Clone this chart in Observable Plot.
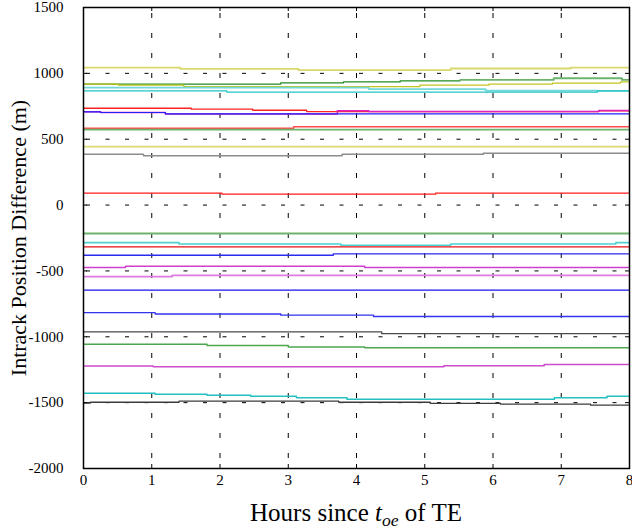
<!DOCTYPE html>
<html><head><meta charset="utf-8">
<script src="https://cdn.jsdelivr.net/npm/d3@7"></script>
<script src="https://cdn.jsdelivr.net/npm/@observablehq/plot@0.6"></script>
<style>
body{margin:0;background:#fff;}
#wrap{position:relative;width:632px;height:529px;}
#xlabel{font-family:"Liberation Serif","Times New Roman",serif;font-size:25px;line-height:1;position:absolute;left:83px;width:546px;top:500px;text-align:center;color:#000;}
#xlabel sub{font-size:0.7em;line-height:0;vertical-align:-0.3em;}
</style></head><body>
<div id="wrap"><div id="chart"></div><div id="xlabel">Hours since <i>t<sub>oe</sub></i> of TE</div></div>
<script>
const xTicks = [0,1,2,3,4,5,6,7,8];
const yTicks = [-2000,-1500,-1000,-500,0,500,1000,1500];
const xGrid = [1,2,3,4,5,6,7];
const yGrid = [-1500,-1000,-500,0,500,1000];
const xDomain = [0,8];
const yDomain = [-2000,1500];
const yLabel = "Intrack Position Difference (m)";

// each series: [hour, metres] breakpoints (step function)
const s01 = [[0,1044],[1.42,1034],[3.15,1024],[5.38,1037],[7.14,1044],[8,1044]];
const s02 = [[0,918],[2.89,928],[3.81,935],[4.64,943],[5.52,943]];
const s03 = [[5.52,950],[6.89,963],[7.89,950],[8,950]];
const s04 = [[0,918],[0.51,911],[1.47,900],[4.93,911],[5.94,918],[6.87,926],[7.87,935],[8,935]];
const s05 = [[0,892],[4.18,880],[5.89,869],[7.53,867],[8,867]];
const s06 = [[0,867],[2.10,857],[7.53,867],[8,867]];
const s07 = [[0,735],[1.58,728],[2.48,720],[3.27,710],[7.55,716],[8,716]];
const s08 = [[0,708],[0.25,703],[1.2,692],[3.72,716],[4.18,710],[7.55,718],[8,718]];
const s09 = [[0,708],[0.25,703],[1.2,692],[8,692]];
const s10 = [[0,584],[3.08,594],[8,594]];
const s11 = [[0,573],[8,573]];
const s12 = [[0,444],[8,444]];
const s13 = [[0,386],[0.88,374],[3.79,386],[5.86,394],[8,394]];
const s14 = [[0,90],[2.03,83],[5.16,90],[8,90]];
const s15 = [[0,-216],[8,-216]];
const s16 = [[0,-285],[1.40,-295],[3.77,-305],[5.38,-295],[7.8,-285],[8,-285]];
const s17 = [[0,-317],[8,-317]];
const s18 = [[0,-381],[3.66,-370],[8,-370]];
const s19 = [[0,-474],[0.615,-464],[4.12,-474],[8,-474]];
const s20 = [[0,-543],[1.30,-533],[8,-533]];
const s21 = [[0,-646],[8,-646]];
const s22 = [[0,-816],[1.05,-827],[2.89,-836],[4.25,-846],[8,-846]];
const s23 = [[0,-963],[4.37,-976],[8,-976]];
const s24 = [[0,-1056],[1.81,-1067],[3.0,-1077],[4.12,-1084],[8,-1084]];
const s25 = [[0,-1221],[1.02,-1228],[5.28,-1220],[6.75,-1211],[8,-1211]];
const s26 = [[0,-1428],[1.05,-1436],[1.81,-1443],[2.45,-1451],[3.12,-1462],[3.86,-1474],[6.9,-1462],[7.67,-1451],[8,-1451]];
const s27 = [[0,-1504],[0.1,-1497],[1.4,-1489],[3.74,-1497],[5.08,-1506],[6.11,-1512],[7.43,-1519],[8,-1519]];

const seriesList = [s01,s02,s03,s04,s05,s06,s07,s08,s09,s10,s11,s12,s13,s14,s15,s16,s17,s18,s19,s20,s21,s22,s23,s24,s25,s26,s27];
const seriesColors = ["#d8d86c","#1f8a1f","#6cb46c","#c4c41c","#70d8d8","#22c4c4","#ff2222","#dd22bb","#2222ff",
  "#ff4a4a","#6db36d","#dada70","#8c8c8c","#ff1a1a","#6db36d","#4fd0d0","#e81010","#2a2af0","#d040d0","#dd7add",
  "#1616ee","#3333f0","#4a4a4a","#4da64d","#cc4ccc","#22c0c0","#3c3c3c"];
const seriesWidths = [1.8,1.2,1.8,1.3,1.6,1.3,1.3,1.6,1.2,1.5,1.8,1.8,1.5,1.2,1.8,1.6,1.2,1.3,1.5,1.8,1.2,1.3,1.3,1.5,1.5,1.5,1.3];

const lineMarks = seriesList.map((s, i) => Plot.line(s, {
  x: d => d[0], y: d => d[1], curve: "step-after",
  stroke: seriesColors[i], strokeWidth: seriesWidths[i]
}));

const tickLenY = (yDomain[1]-yDomain[0]) * 4/461;
const tickLenX = (xDomain[1]-xDomain[0]) * 4/546;

const chart = Plot.plot({
  width: 632, height: 490,
  marginLeft: 83, marginRight: 3, marginTop: 7, marginBottom: 22,
  style: {fontFamily: "'Liberation Serif', 'Times New Roman', serif", fontSize: "15px", background: "white", color: "black", overflow: "visible"},
  x: {domain: xDomain, ticks: xTicks, tickSize: 0, tickPadding: 6, label: null, tickFormat: d => String(d)},
  y: {domain: yDomain, ticks: yTicks, tickSize: 0, tickPadding: 20, label: null, tickFormat: d => String(d)},
  marks: [
    Plot.ruleX(xGrid, {stroke: "black", strokeWidth: 1, strokeDasharray: "5,15", strokeDashoffset: 14}),
    Plot.ruleY(yGrid, {stroke: "black", strokeWidth: 1, strokeDasharray: "4,15.5", strokeDashoffset: 16.5}),
    ...lineMarks,
    Plot.ruleX(xTicks, {y1: yDomain[0], y2: yDomain[0] + tickLenY, stroke: "black"}),
    Plot.ruleX(xTicks, {y1: yDomain[1] - tickLenY, y2: yDomain[1], stroke: "black"}),
    Plot.ruleY(yTicks, {x1: xDomain[0], x2: xDomain[0] + tickLenX, stroke: "black"}),
    Plot.ruleY(yTicks, {x1: xDomain[1] - tickLenX, x2: xDomain[1], stroke: "black"}),
    Plot.frame({stroke: "black", strokeWidth: 1.5}),
    Plot.text([yLabel], {text: d => d, frameAnchor: "left", textAnchor: "middle", rotate: -90, dx: -65, fontSize: 22, fill: "black"})
  ]
});
document.getElementById("chart").appendChild(chart);
</script>
</body></html>
